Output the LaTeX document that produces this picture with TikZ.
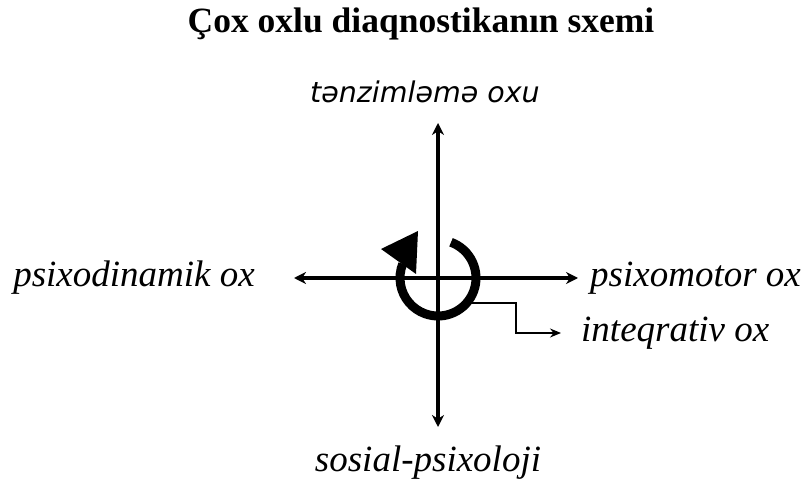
\documentclass[tikz,border=0pt]{standalone}
\usepackage{fontspec}
\setmainfont{Liberation Serif}
\newfontfamily\topfont{DejaVu Sans}
\usetikzlibrary{positioning,arrows.meta}

\tikzset{
  axis/.style={line width=3.6pt, {Stealth[length=12pt,width=12pt]}-{Stealth[length=12pt,width=12pt]}},
  ring/.style={line width=9pt},
  axlabel/.style={font=\fontsize{37}{40}\selectfont\itshape, inner sep=0pt},
}

\begin{document}
\begin{tikzpicture}[x=1pt,y=1pt,>=Stealth]
  \useasboundingbox (0,0) rectangle (811,482);
  % title
  \node[font=\fontsize{35.5}{38}\selectfont\bfseries, anchor=base, inner sep=0pt] (title) at (421,449) {Çox oxlu diaqnostikanın sxemi};
  % centre and axis ends
  \coordinate (o) at (438,204);
  \coordinate (up) at (438,359);
  \coordinate (dn) at (438,55);
  \coordinate (lt) at (294,204);
  \coordinate (rt) at (578,204);
  % labels
  \node[font=\topfont\fontsize{28.5}{32}\selectfont\itshape, inner sep=0pt] (reg) at (425,390) {tənzimləmə oxu};
  \node[axlabel] (dyn) at (134,204) {psixodinamik ox};
  \node[axlabel, anchor=west] (mot) at (590,204) {psixomotor ox};
  \node[axlabel, anchor=west] (int) at (581,149) {inteqrativ ox};
  \node[axlabel] (soc) at (428,19) {sosial-psixoloji};
  % axes
  \draw[axis] (dn) -- (up);
  \draw[axis] (lt) -- (rt);
  % rotation ring with its head
  \draw[ring] ([shift={(70:38)}]o) arc[start angle=70, end angle=-202, radius=38];
  \coordinate (h1) at ([shift={(-57,29)}]o);
  \coordinate (h2) at ([shift={(-22,4)}]o);
  \coordinate (tip) at ([shift={(-20,47)}]o);
  \fill (h1) -- (tip) -- (h2) -- cycle;
  \coordinate (ip) at ([shift={(-40:39)}]o);
  \draw[line width=1.4pt, -{Stealth[length=11pt,width=9pt]}] (ip) -- ++(48,0) |- ([xshift=-20pt]int.west);
\end{tikzpicture}
\end{document}
